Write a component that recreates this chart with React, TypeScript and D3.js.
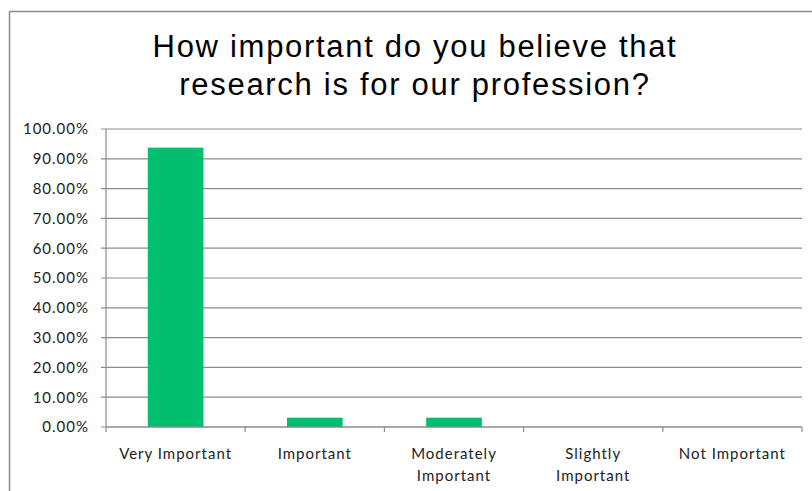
import React from "react";
import * as d3 from "d3";

const categories: string[][] = [
  ["Very Important"],
  ["Important"],
  ["Moderately", "Important"],
  ["Slightly", "Important"],
  ["Not Important"],
];
const values: number[] = [0.9375, 0.0313, 0.0313, 0, 0];
const yTicks: number[] = [0, 0.1, 0.2, 0.3, 0.4, 0.5, 0.6, 0.7, 0.8, 0.9, 1.0];
const titleLines: string[] = ["How important do you believe that", "research is for our profession?"];

const W = 812;
const H = 491;
const plotLeft = 106;
const plotRight = 802;
const plotTop = 129;
const plotBottom = 427;

export default function App() {
  const x = d3
    .scaleBand<number>()
    .domain(d3.range(categories.length))
    .range([plotLeft, plotRight])
    .paddingInner(0.6)
    .paddingOuter(0.3);
  const xBoundaries = d3.range(categories.length + 1).map((i) => plotLeft + (i * (plotRight - plotLeft)) / categories.length);
  const y = d3.scaleLinear().domain([0, 1]).range([plotBottom, plotTop]);
  const fmt = d3.format(".2%");
  const grid = "#8c8c8c";
  const labelFont = "Lato, 'Open Sans', sans-serif";

  return (
    <svg
      width={W}
      height={H}
      style={{ position: "absolute", left: 0, top: 0, background: "#fff" }}
    >
      <rect x={0} y={0} width={W} height={H} fill="#fff" />
      {/* outer chart border */}
      <line x1={9.5} x2={W} y1={11.5} y2={11.5} stroke="#8a8a8a" strokeWidth={1.5} />
      <line x1={9.5} x2={9.5} y1={11.5} y2={H} stroke="#8a8a8a" strokeWidth={1.5} />

      {titleLines.map((t, i) => (
        <text
          key={i}
          x={415}
          y={57 + i * 38}
          textAnchor="middle"
          fontFamily="'Liberation Sans', Arial, sans-serif"
          fontSize={31}
          letterSpacing={1.7}
          fill="#000"
        >
          {t}
        </text>
      ))}

      {/* gridlines + y ticks */}
      {yTicks.map((t) => (
        <g key={t}>
          <line x1={plotLeft - 5} x2={plotRight} y1={y(t)} y2={y(t)} stroke={grid} strokeWidth={1.2} />
          <text
            x={89}
            y={y(t)}
            dy="0.36em"
            textAnchor="end"
            fontFamily={labelFont}
            fontSize={15}
            letterSpacing={1}
            fill="#222"
          >
            {fmt(t)}
          </text>
        </g>
      ))}
      {/* y axis line */}
      <line x1={plotLeft} x2={plotLeft} y1={plotTop} y2={plotBottom} stroke={grid} strokeWidth={1.2} />

      {/* bars */}
      {values.map((v, i) =>
        v > 0 ? (
          <rect
            key={i}
            x={x(i)}
            y={y(v)}
            width={x.bandwidth()}
            height={plotBottom - y(v)}
            fill="#02BF6F"
          />
        ) : null
      )}

      {/* x axis */}
      <line x1={plotLeft} x2={plotRight} y1={plotBottom} y2={plotBottom} stroke={grid} strokeWidth={1.2} />
      {xBoundaries.map((bx, i) => (
        <line key={i} x1={bx} x2={bx} y1={plotBottom} y2={plotBottom + 5} stroke={grid} strokeWidth={1.2} />
      ))}
      {categories.map((lines, i) => (
        <text
          key={i}
          x={(x(i) as number) + x.bandwidth() / 2}
          y={459}
          textAnchor="middle"
          fontFamily={labelFont}
          fontSize={15}
          letterSpacing={1}
          fill="#222"
        >
          {lines.map((l, j) => (
            <tspan key={j} x={(x(i) as number) + x.bandwidth() / 2} dy={j === 0 ? 0 : 21.5}>
              {l}
            </tspan>
          ))}
        </text>
      ))}
    </svg>
  );
}
